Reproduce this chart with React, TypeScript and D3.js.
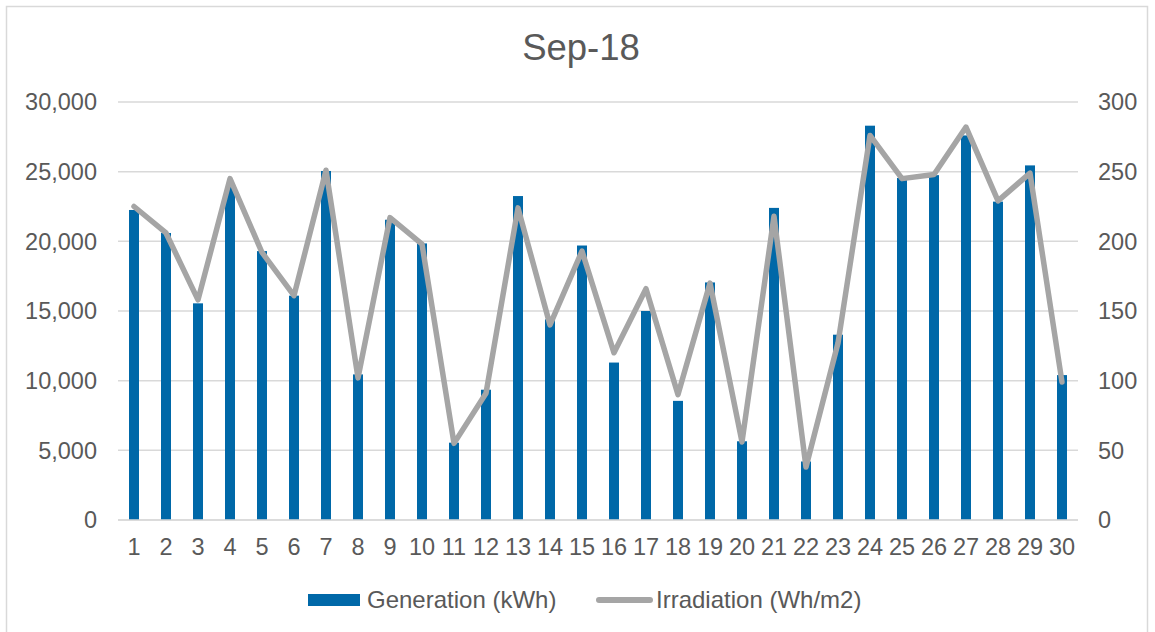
import * as d3 from "d3";
import React from "react";

const days = d3.range(1, 31).map(String);
const generation = [
  22250, 20600, 15550, 23900, 19300, 16100, 25050, 10450, 21550, 19850,
  5550, 9350, 23250, 14400, 19700, 11300, 15000, 8550, 17050, 5650,
  22400, 4200, 13300, 28300, 24550, 24750, 27600, 22850, 25450, 10400,
];
const irradiation = [
  225, 206, 158, 245, 192, 161, 251, 102, 217, 198,
  55, 91, 224, 140, 193, 120, 166, 90, 170, 56,
  218, 38, 127, 276, 245, 248, 282, 229, 249, 99,
];
const leftTicks = [0, 5000, 10000, 15000, 20000, 25000, 30000];
const rightTicks = [0, 50, 100, 150, 200, 250, 300];

const W = 1155;
const H = 632;
const textColor = "#595959";
const barColor = "#0068a8";
const lineColor = "#a5a5a5";
const gridColor = "#d9d9d9";
const font = "'Liberation Sans', Arial, sans-serif";

export default function App() {
  const x = d3
    .scaleBand<string>()
    .domain(days)
    .range([118, 1078])
    .paddingInner(0.6875)
    .paddingOuter(0.34375);
  const yLeft = d3.scaleLinear().domain([0, 30000]).range([520, 102]);
  const yRight = d3.scaleLinear().domain([0, 300]).range([520, 102]);
  const fmt = d3.format(",");

  const line = d3
    .line<number>()
    .x((_, i) => (x(days[i]) ?? 0) + x.bandwidth() / 2)
    .y((d) => yRight(d));

  return (
    <div style={{ position: "fixed", left: 0, top: 0 }}>
      <svg width={W} height={H} style={{ fontFamily: font, display: "block" }}>
        <rect x={0} y={0} width={W} height={H} fill="#fff" />
        <rect x={6.5} y={6.5} width={1141} height={660} fill="none" stroke={gridColor} strokeWidth={1.5} />
        <text x={581} y={60} textAnchor="middle" fontSize={36.5} fill={textColor}>
          Sep-18
        </text>

        {leftTicks.map((t) => (
          <g key={t}>
            <line x1={118} x2={1078} y1={yLeft(t)} y2={yLeft(t)} stroke={gridColor} strokeWidth={1.5} />
            <text x={97} y={yLeft(t)} dy="0.35em" textAnchor="end" fontSize={23.5} fill={textColor}>
              {fmt(t)}
            </text>
          </g>
        ))}
        {rightTicks.map((t) => (
          <text key={t} x={1098} y={yRight(t)} dy="0.35em" fontSize={23.5} fill={textColor}>
            {t}
          </text>
        ))}

        {generation.map((v, i) => (
          <rect
            key={i}
            x={x(days[i])}
            y={yLeft(v)}
            width={x.bandwidth()}
            height={yLeft(0) - yLeft(v)}
            fill={barColor}
          />
        ))}
        <line x1={118} x2={1078} y1={yLeft(0)} y2={yLeft(0)} stroke={gridColor} strokeWidth={1.5} />

        <path
          d={line(irradiation) ?? ""}
          fill="none"
          stroke={lineColor}
          strokeWidth={5.5}
          strokeLinejoin="round"
          strokeLinecap="round"
        />

        {days.map((d) => (
          <text
            key={d}
            x={(x(d) ?? 0) + x.bandwidth() / 2}
            y={547}
            dy="0.35em"
            textAnchor="middle"
            fontSize={23.5}
            fill={textColor}
          >
            {d}
          </text>
        ))}

        <g>
          <rect x={308} y={594} width={52} height={12} fill={barColor} />
          <text x={367} y={600} dy="0.35em" fontSize={24} fill={textColor}>
            Generation (kWh)
          </text>
          <line x1={599} x2={650} y1={600} y2={600} stroke={lineColor} strokeWidth={6} strokeLinecap="round" />
          <text x={656} y={600} dy="0.35em" fontSize={24} fill={textColor}>
            Irradiation (Wh/m2)
          </text>
        </g>
      </svg>
    </div>
  );
}
